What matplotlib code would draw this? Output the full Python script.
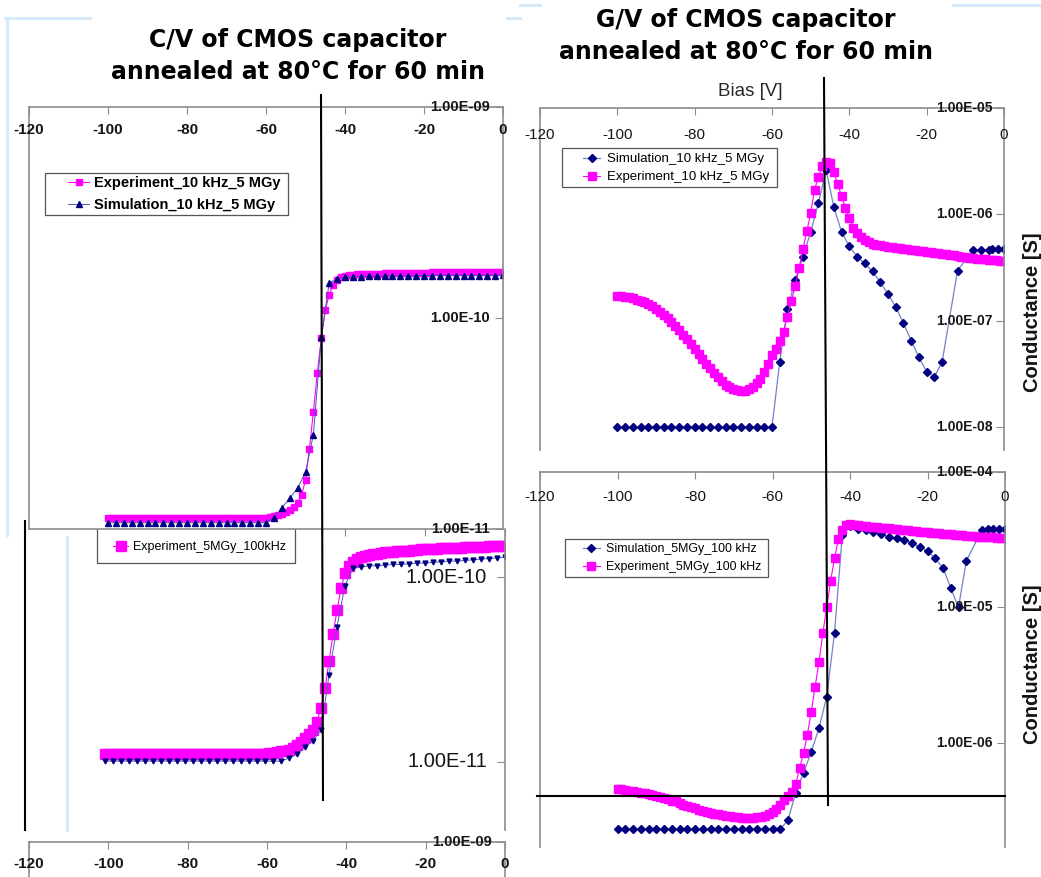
import numpy as np
import matplotlib
matplotlib.use("Agg")
import matplotlib.pyplot as plt
from matplotlib.lines import Line2D
from matplotlib.patches import Rectangle
from matplotlib.ticker import NullLocator
from matplotlib.transforms import offset_copy

plt.rcParams["font.family"] = ["Liberation Sans", "DejaVu Sans"]

# ---- bias sweeps ----
bias_1v = np.arange(-100, 1, 1)          # experiment, 1 V steps
bias_2v = np.arange(-100, 1, 2)          # simulation, 2 V steps
bias_sim_c = [-100, -98, -96, -94, -92, -90, -88, -86, -84, -82, -80, -78, -76, -74,
              -72, -70, -68, -66, -64, -62, -60, -58, -56, -54, -52, -50, -48, -46,
              -44, -42, -40, -38, -36, -34, -32, -30, -28, -26, -24, -22, -20, -18,
              -16, -12, -8, -6, -4, -3, -1.5, 0]
bias_sim_d = [-100, -98, -96, -94, -92, -90, -88, -86, -84, -82, -80, -78, -76, -74,
              -72, -70, -68, -66, -64, -62, -60, -58, -56, -54, -52, -50, -48, -46,
              -44, -42, -40, -38, -36, -34, -32, -30, -28, -26, -24, -22, -20, -18,
              -16, -14, -12, -10, -6, -4.5, -3, -1.5, 0]

# ---- C/V 10 kHz, 5 MGy (capacitance, F) ----
cv10_exp = np.array([
    1.13, 1.13, 1.13, 1.13, 1.13, 1.13, 1.13, 1.13, 1.13, 1.13,
    1.13, 1.13, 1.13, 1.13, 1.13, 1.13, 1.13, 1.13, 1.13, 1.13,
    1.13, 1.13, 1.13, 1.13, 1.13, 1.13, 1.13, 1.13, 1.13, 1.13,
    1.13, 1.13, 1.13, 1.13, 1.13, 1.13, 1.13, 1.13, 1.13, 1.13,
    1.13, 1.14, 1.15, 1.16, 1.18, 1.20, 1.23, 1.27, 1.33, 1.45,
    1.70, 2.4, 3.6, 5.5, 8.0, 10.9, 12.9, 14.3, 15.2, 15.6,
    15.9, 16.0, 16.0, 16.1, 16.1, 16.1, 16.2, 16.2, 16.2, 16.2,
    16.3, 16.3, 16.3, 16.3, 16.3, 16.4, 16.4, 16.4, 16.4, 16.4,
    16.4, 16.4, 16.5, 16.5, 16.5, 16.5, 16.5, 16.5, 16.5, 16.5,
    16.5, 16.5, 16.5, 16.5, 16.5, 16.5, 16.5, 16.5, 16.5, 16.5,
    16.6]) * 1e-11
cv10_sim = np.array([
    1.07, 1.07, 1.07, 1.07, 1.07, 1.07, 1.07, 1.07, 1.07, 1.07,
    1.07, 1.07, 1.07, 1.07, 1.07, 1.07, 1.07, 1.07, 1.07, 1.07,
    1.07, 1.13, 1.26, 1.40, 1.56, 1.86, 2.8, 8.1, 14.7, 15.3,
    15.6, 15.7, 15.7, 15.8, 15.8, 15.8, 15.8, 15.8, 15.8, 15.8,
    15.9, 15.9, 15.9, 15.9, 15.9, 15.9, 15.9, 15.9, 15.9, 15.9,
    16.0]) * 1e-11

# ---- C/V 100 kHz, 5 MGy (capacitance, F) ----
cv100_exp = np.array([
    1.10, 1.10, 1.10, 1.10, 1.10, 1.10, 1.10, 1.10, 1.10, 1.10,
    1.10, 1.10, 1.10, 1.10, 1.10, 1.10, 1.10, 1.10, 1.10, 1.10,
    1.10, 1.11, 1.11, 1.11, 1.11, 1.11, 1.11, 1.11, 1.11, 1.11,
    1.11, 1.11, 1.11, 1.11, 1.11, 1.11, 1.11, 1.11, 1.11, 1.11,
    1.11, 1.12, 1.12, 1.13, 1.14, 1.15, 1.16, 1.19, 1.23, 1.29,
    1.35, 1.41, 1.49, 1.65, 1.96, 2.5, 3.5, 4.9, 6.6, 8.7,
    10.5, 11.5, 12.0, 12.5, 12.8, 13.0, 13.2, 13.3, 13.4, 13.5,
    13.6, 13.7, 13.7, 13.8, 13.8, 13.9, 13.9, 14.0, 14.0, 14.1,
    14.1, 14.2, 14.2, 14.2, 14.3, 14.3, 14.3, 14.4, 14.4, 14.4,
    14.5, 14.5, 14.5, 14.6, 14.6, 14.6, 14.7, 14.7, 14.7, 14.8,
    14.8]) * 1e-11
cv100_sim = np.array([
    1.01, 1.01, 1.01, 1.01, 1.01, 1.01, 1.01, 1.01, 1.01, 1.01,
    1.01, 1.01, 1.01, 1.01, 1.01, 1.01, 1.01, 1.01, 1.01, 1.01,
    1.01, 1.01, 1.01, 1.05, 1.10, 1.20, 1.30, 1.49, 2.95, 5.4,
    9.0, 11.2, 11.3, 11.5, 11.5, 11.6, 11.7, 11.7, 11.8, 11.9,
    11.9, 12.0, 12.1, 12.2, 12.2, 12.3, 12.4, 12.5, 12.6, 12.7,
    12.8]) * 1e-11

# ---- G/V 10 kHz, 5 MGy (conductance, S) ----
gv10_exp = np.array([
    1.72, 1.70, 1.68, 1.65, 1.62, 1.58, 1.54, 1.49, 1.43, 1.36,
    1.29, 1.21, 1.13, 1.05, 0.97, 0.89, 0.81, 0.74, 0.67, 0.60,
    0.54, 0.49, 0.44, 0.395, 0.355, 0.32, 0.295, 0.27, 0.25, 0.238,
    0.228, 0.222, 0.22, 0.22, 0.228, 0.24, 0.26, 0.285, 0.33, 0.39,
    0.47, 0.54, 0.65, 0.79, 1.09, 1.54, 2.1, 3.1, 4.7, 6.9,
    10.2, 17.0, 22.5, 28.5, 31.0, 30.5, 25.0, 19.3, 14.8, 11.5,
    9.3, 7.5, 6.6, 6.1, 5.7, 5.45, 5.3, 5.2, 5.1, 5.0,
    4.95, 4.90, 4.85, 4.80, 4.75, 4.70, 4.65, 4.60, 4.55, 4.50,
    4.45, 4.40, 4.35, 4.30, 4.25, 4.20, 4.15, 4.10, 4.05, 4.00,
    3.96, 3.92, 3.88, 3.84, 3.80, 3.77, 3.74, 3.71, 3.68, 3.65,
    3.62]) * 1e-7
gv10_sim = np.array([
    1.0, 1.0, 1.0, 1.0, 1.0, 1.0, 1.0, 1.0, 1.0, 1.0,
    1.0, 1.0, 1.0, 1.0, 1.0, 1.0, 1.0, 1.0, 1.0, 1.0,
    1.0, 4.1, 13, 24, 40, 68, 127, 260, 117, 68,
    50, 40, 34.5, 29, 23, 17.7, 13.5, 9.4, 6.5, 4.5,
    3.3, 2.96, 4.1, 29.6, 46, 46, 46.5, 47, 47, 47.5]) * 1e-8

# ---- G/V 100 kHz, 5 MGy (conductance, S) ----
gv100_exp = np.array([
    4.6, 4.55, 4.5, 4.45, 4.4, 4.35, 4.3, 4.25, 4.2, 4.1,
    4.05, 4.0, 3.9, 3.85, 3.75, 3.7, 3.6, 3.5, 3.45, 3.35,
    3.3, 3.2, 3.15, 3.1, 3.05, 3.0, 2.97, 2.93, 2.9, 2.87,
    2.85, 2.82, 2.8, 2.8, 2.8, 2.8, 2.82, 2.85, 2.9, 3.0,
    3.1, 3.25, 3.5, 3.8, 4.06, 4.35, 5.0, 6.5, 8.4, 11.5,
    17, 26, 39.6, 65, 100, 157, 230, 320, 370, 406,
    410, 408, 405, 402, 399, 396, 393, 390, 388, 385,
    383, 380, 378, 375, 373, 370, 368, 366, 363, 361,
    359, 357, 355, 353, 351, 349, 347, 345, 343, 341,
    339, 337, 335, 334, 332, 331, 330, 329, 327, 326,
    325]) * 1e-7
gv100_sim = np.array([
    2.3, 2.3, 2.3, 2.3, 2.3, 2.3, 2.3, 2.3, 2.3, 2.3,
    2.3, 2.3, 2.3, 2.3, 2.3, 2.3, 2.3, 2.3, 2.3, 2.3,
    2.3, 2.3, 2.7, 4.3, 6.0, 8.6, 12.9, 22, 65, 340,
    400, 380, 370, 360, 350, 330, 325, 315, 300, 280,
    260, 230, 196, 139, 100, 220, 370, 380, 380, 380,
    380]) * 1e-7

bias_ticks = [-120, -100, -80, -60, -40, -20, 0]

PINK = "#ff00ff"
NAVY = "#000080"
SIMLINE = "#7382c8"
FRAME = "#8c8c8c"
INK = "#151515"

W, H = 1041, 877
fig = plt.figure(figsize=(W / 100, H / 100), dpi=100)


def px_axes(x0, y0, x1, y1):
    return fig.add_axes([x0 / W, 1 - y1 / H, (x1 - x0) / W, (y1 - y0) / H])


def fig_line(xs, ys, color="black", lw=1.5):
    fig.add_artist(Line2D([x / W for x in xs], [1 - y / H for y in ys],
                          transform=fig.transFigure, color=color, lw=lw, zorder=10))


def setup(ax, ylim, decades, spines=("top", "left", "right")):
    ax.set_xlim(-120, 0)
    ax.set_yscale("log")
    ax.set_ylim(*ylim)
    for name, sp in ax.spines.items():
        sp.set_visible(name in spines)
        sp.set_color(FRAME)
        sp.set_linewidth(1.2)
    ax.set_xticks(bias_ticks)
    ax.set_yticks(decades)
    ax.yaxis.set_minor_locator(NullLocator())
    ax.tick_params(axis="x", top=True, bottom=False, labeltop=False, labelbottom=False,
                   direction="in", length=5, color=FRAME)
    ax.tick_params(axis="y", left=False, right=True, labelleft=False, labelright=False,
                   direction="in", length=6, color=FRAME)


def top_labels(ax, dy, **kw):
    tr = offset_copy(ax.get_xaxis_transform(), fig=fig, y=-dy, units="dots")
    for t in bias_ticks:
        ax.text(t, 1, f"{t:g}", transform=tr, ha="center", va="center", color=INK, **kw)


def right_labels(ax, decades, dx, **kw):
    tr = offset_copy(ax.get_yaxis_transform(), fig=fig, x=-dx, units="dots")
    for d in decades:
        ax.text(1, d, f"{d:.2E}", transform=tr, ha="right", va="center", color=INK, **kw)


def legend_box(ax, x0, y0, x1, y1):
    ax.add_patch(Rectangle((x0 / W, 1 - y1 / H), (x1 - x0) / W, (y1 - y0) / H,
                           transform=fig.transFigure, facecolor="white",
                           edgecolor="#555555", lw=0.9, clip_on=False, zorder=4))


def legend_at(ax, handles, x, y, size, weight, hl, htp, ls):
    ax.legend(handles=handles, loc="upper left", bbox_to_anchor=(x / W, 1 - y / H),
              bbox_transform=fig.transFigure, frameon=False, borderpad=0,
              borderaxespad=0, handlelength=hl, handletextpad=htp, labelspacing=ls,
              prop={"size": size, "weight": weight})


# ---- C/V 100 kHz (lower left) ----
ax_b = px_axes(25, 529, 505, 830)
setup(ax_b, (10 ** -11.368, 10 ** -9.74), [1e-11, 1e-10], spines=("right",))
pb, = ax_b.plot(bias_1v, cv100_exp, color=PINK, lw=0.8, marker="s", ms=6.5,
                mec=PINK, label="Experiment_5MGy_100kHz")
ax_b.plot(bias_2v, cv100_sim, color="#5060b0", lw=0.7, marker="v", ms=3.5,
          mec=NAVY, mfc=NAVY)
right_labels(ax_b, [1e-11, 1e-10], 18, fontsize=14.5)
legend_box(ax_b, 97, 528, 295, 563)
legend_at(ax_b, [pb], 113, 541, 9, "normal", 1.2, 0.4, 0.3)

# ---- third C/V frame, bottom strip ----
ax_e = px_axes(29, 842, 505, 1262)
setup(ax_e, (1e-11, 1e-9), [1e-9])
top_labels(ax_e, 22, fontsize=11, fontweight="bold")
right_labels(ax_e, [1e-9], 13, fontsize=10.5, fontweight="bold")

# ---- C/V 10 kHz (upper left) ----
ax_a = px_axes(29, 107, 503, 529)
ax_a.set_zorder(3)
setup(ax_a, (1e-11, 1e-9), [1e-11, 1e-10, 1e-9], spines=("top", "left", "right", "bottom"))
pa, = ax_a.plot(bias_1v, cv10_exp, color=PINK, lw=0.8, marker="s", ms=4,
                mec=PINK, label="Experiment_10 kHz_5 MGy")
sa, = ax_a.plot(bias_2v, cv10_sim, color="#4858b0", lw=0.7, marker="^", ms=4.2,
                mec=NAVY, mfc=NAVY, label="Simulation_10 kHz_5 MGy")
top_labels(ax_a, 23, fontsize=11, fontweight="bold")
right_labels(ax_a, [1e-11, 1e-10, 1e-9], 13, fontsize=10.5, fontweight="bold")
legend_box(ax_a, 45, 173, 288, 215)
legend_at(ax_a, [pa, sa], 68, 176, 10.5, "bold", 1.45, 0.3, 0.55)

# ---- G/V 10 kHz (upper right) ----
ax_c = px_axes(540, 108, 1004, 450)
setup(ax_c, (10 ** -8.217, 1e-5), [1e-8, 1e-7, 1e-6, 1e-5])
sc, = ax_c.plot(bias_sim_c, gv10_sim, color=SIMLINE, lw=0.9, marker="D", ms=4.2,
                mec=NAVY, mfc=NAVY, label="Simulation_10 kHz_5 MGy")
pc, = ax_c.plot(bias_1v, gv10_exp, color=PINK, lw=0.8, marker="s", ms=6.3,
                mec=PINK, label="Experiment_10 kHz_5 MGy")
top_labels(ax_c, 27, fontsize=11)
right_labels(ax_c, [1e-8, 1e-7, 1e-6, 1e-5], 11, fontsize=10, fontweight="bold")
legend_box(ax_c, 562, 148, 777, 187)
legend_at(ax_c, [sc, pc], 583, 153, 9.5, "normal", 1.3, 0.55, 0.45)

# ---- G/V 100 kHz (lower right) ----
ax_d = px_axes(540, 472, 1005, 847)
setup(ax_d, (10 ** -6.768, 1e-4), [1e-6, 1e-5, 1e-4])
sd, = ax_d.plot(bias_sim_d, gv100_sim, color=SIMLINE, lw=0.9, marker="D", ms=4.2,
                mec=NAVY, mfc=NAVY, label="Simulation_5MGy_100 kHz")
pd_, = ax_d.plot(bias_1v, gv100_exp, color=PINK, lw=0.8, marker="s", ms=6.3,
                 mec=PINK, label="Experiment_5MGy_100 kHz")
top_labels(ax_d, 25, fontsize=11)
right_labels(ax_d, [1e-6, 1e-5, 1e-4], 12, fontsize=10, fontweight="bold")
legend_box(ax_d, 565, 539, 768, 577)
legend_at(ax_d, [sd, pd_], 583, 543, 8.9, "normal", 1.35, 0.55, 0.5)

# ---- titles and axis names ----
title_kw = dict(ha="center", va="center", fontsize=17, fontweight="bold",
                family="DejaVu Sans")
fig.text(298 / W, 1 - 40 / H, "C/V of CMOS capacitor", **title_kw)
fig.text(298 / W, 1 - 72 / H, "annealed at 80°C for 60 min", **title_kw)
fig.text(746 / W, 1 - 20 / H, "G/V of CMOS capacitor", **title_kw)
fig.text(746 / W, 1 - 52 / H, "annealed at 80°C for 60 min", **title_kw)
fig.text(750 / W, 1 - 91 / H, "Bias [V]", ha="center", va="center", fontsize=13.5,
         color="#2a2a2a")
for yc in (312, 664):
    fig.text(1032 / W, 1 - yc / H, "Conductance [S]", ha="center", va="center",
             rotation=90, fontsize=14.5, fontweight="bold", color=INK)

# ---- slide decorations and guide lines ----
blue = "#d6eafa"
fig_line([5, 90], [18, 18], blue, 2.2)
fig_line([507, 520], [18, 18], blue, 2.2)
fig_line([7, 7], [18, 535], blue, 2.2)
fig_line([67, 67], [537, 830], blue, 2.2)
fig_line([520, 540], [5, 5], blue, 2.2)
fig_line([953, 1041], [5, 5], blue, 2.2)

fig_line([25, 25], [521, 830])
fig_line([321, 323], [95, 800])
fig_line([824, 828], [78, 805])
fig_line([537, 1005], [796, 796])

fig.savefig("out.png", dpi=100, facecolor="white")
